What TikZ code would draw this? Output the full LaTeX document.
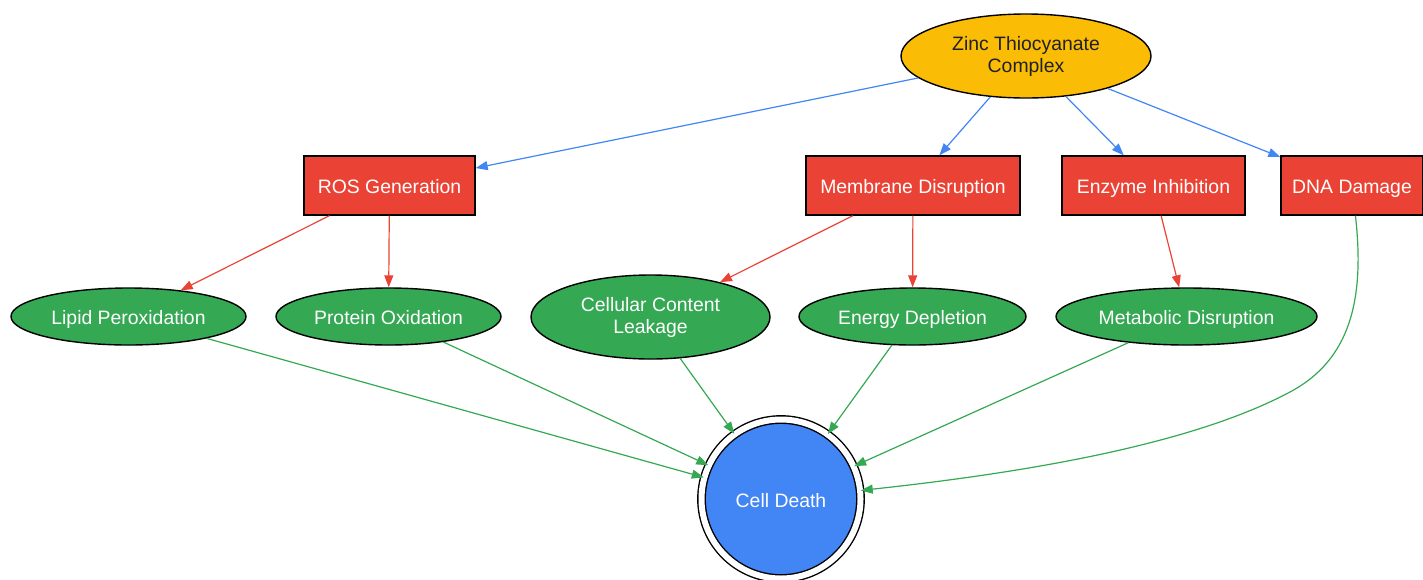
\documentclass[tikz,border=0pt]{standalone}
\usepackage{fontspec}
\setmainfont{Liberation Sans}
\usetikzlibrary{shapes,arrows.meta}

\definecolor{gyellow}{HTML}{FBBC05}
\definecolor{gred}{HTML}{EA4335}
\definecolor{ggreen}{HTML}{34A853}
\definecolor{gblue}{HTML}{4285F4}
\definecolor{gtext}{HTML}{202124}

\begin{document}
\begin{tikzpicture}[x=.5pt,y=-.5pt,every node/.append style={font=\fontsize{9.7}{11}\selectfont,
                    align=center,inner sep=0pt,line width=.7pt},
    single/.style={text height=9pt,text depth=1pt},
    source/.style={ellipse,draw=black,fill=gyellow,text=gtext,minimum height=42pt},
    mech/.style={rectangle,draw=black,fill=gred,text=white,minimum height=29.5pt,single},
    effect/.style={ellipse,draw=black,fill=ggreen,text=white,minimum height=28.5pt},
    final/.style={circle,draw=black,fill=gblue,text=white,double,double distance=3pt,minimum size=79.5pt,single},
    bluearrow/.style={draw=gblue,line width=.6pt,-{Triangle[length=6pt,width=4.5pt]}},
    redarrow/.style={draw=gred,line width=.6pt,-{Triangle[length=6pt,width=4.5pt]}},
    greenarrow/.style={draw=ggreen,line width=.6pt,-{Triangle[length=6pt,width=4.5pt]}}]
    \useasboundingbox (0,0) rectangle (1423,579);
    % top
    \node[source,minimum width=125pt] (zinc) at (1026,56) {Zinc Thiocyanate\\Complex};
    % mechanisms
    \node[mech,minimum width=85.5pt] (ros) at (389.5,185.5) {ROS Generation};
    \node[mech,minimum width=107pt] (membrane) at (913,185.5) {Membrane Disruption};
    \node[mech,minimum width=91.5pt] (enzyme) at (1153.5,185.5) {Enzyme Inhibition};
    \node[mech,minimum width=71pt] (dna) at (1352,185.5) {DNA Damage};
    % effects
    \node[effect,single,minimum width=117.5pt] (lipid) at (128.5,316.5) {Lipid Peroxidation};
    \node[effect,single,minimum width=112.5pt] (protein) at (388.5,316.5) {Protein Oxidation};
    \node[effect,minimum width=119.5pt,minimum height=42pt] (leakage) at (650.5,317) {Cellular Content\\Leakage};
    \node[effect,single,minimum width=113.5pt] (energy) at (912.5,316.5) {Energy Depletion};
    \node[effect,single,minimum width=130.5pt] (metabolic) at (1186.5,316.5) {Metabolic Disruption};
    % outcome
    \node[final] (death) at (781,499) {Cell Death};

    \draw[bluearrow] (zinc) -- (ros);
    \draw[bluearrow] (zinc) -- (membrane);
    \draw[bluearrow] (zinc) -- (enzyme);
    \draw[bluearrow] (zinc) -- (dna);
    \draw[redarrow] (ros) -- (lipid);
    \draw[redarrow] (ros) -- (protein);
    \draw[redarrow] (membrane) -- (leakage);
    \draw[redarrow] (membrane) -- (energy);
    \draw[redarrow] (enzyme) -- (metabolic);
    \draw[greenarrow] (lipid) -- (death);
    \draw[greenarrow] (protein) -- (death);
    \draw[greenarrow] (leakage) -- (death);
    \draw[greenarrow] (energy) -- (death);
    \draw[greenarrow] (metabolic) -- (death);
    \draw[greenarrow] (dna) .. controls (1365,300) and (1350,360) .. (1290,392)
                            .. controls (1200,440) and (1050,470) .. (death);
\end{tikzpicture}
\end{document}
